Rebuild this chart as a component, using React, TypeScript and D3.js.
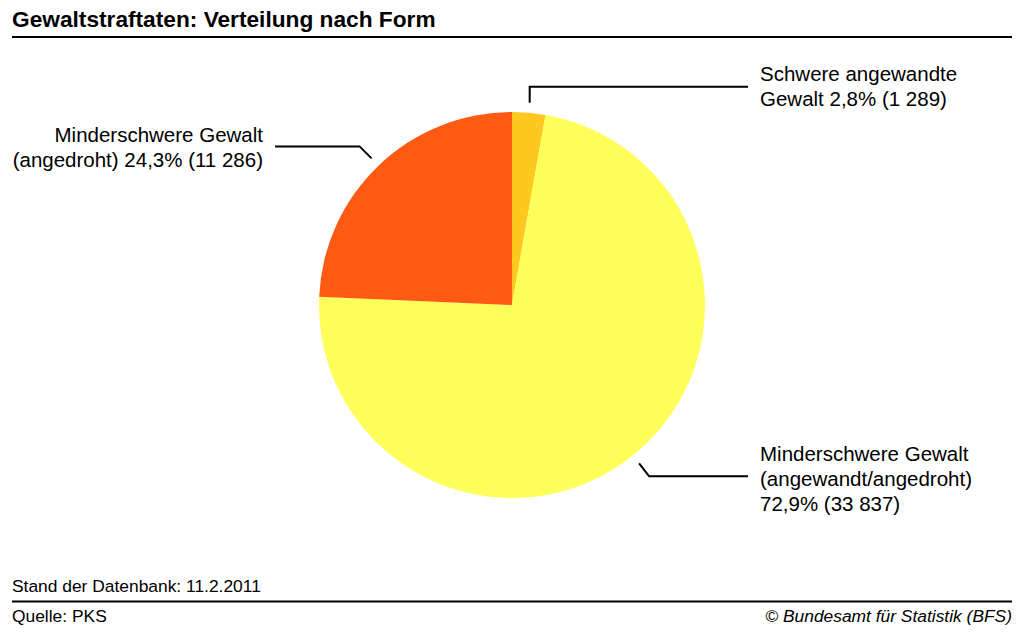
import React from "react";
import * as d3 from "d3";

const categories = [
  "Schwere angewandte Gewalt",
  "Minderschwere Gewalt (angewandt/angedroht)",
  "Minderschwere Gewalt (angedroht)",
];
const values = [1289, 33837, 11286];
const percentLabels = ["2,8%", "72,9%", "24,3%"];
const countLabels = ["1 289", "33 837", "11 286"];
const labelLines = [
  ["Schwere angewandte", "Gewalt 2,8% (1 289)"],
  ["Minderschwere Gewalt", "(angewandt/angedroht)", "72,9% (33 837)"],
  ["Minderschwere Gewalt", "(angedroht) 24,3% (11 286)"],
];
const colors = ["#FFC81E", "#FFFF5A", "#FF5A14"];

const W = 1024;
const H = 633;
const cx = 512;
const cy = 305;
const R = 193;
const font = "'Liberation Sans', Arial, sans-serif";

export default function App() {
  const pie = d3.pie<number>().sort(null).startAngle(0).endAngle(2 * Math.PI);
  const arcs = pie(values);
  const arcGen = d3.arc<d3.PieArcDefaultObject<number>>().innerRadius(0).outerRadius(R);

  const pt = (a: number, r: number) => [cx + r * Math.sin(a), cy - r * Math.cos(a)];

  const leaders = arcs.map((a, i) => {
    const mid = (a.startAngle + a.endAngle) / 2;
    const [sx, sy] = pt(mid, R + 10);
    if (i === 0) {
      return { pts: [[sx, sy], [sx, sy - 16], [748, sy - 16]], tx: 760, anchor: "start", ty: 81 };
    } else if (i === 1) {
      return { pts: [[sx, sy], [sx + 10, sy + 13], [748, sy + 13]], tx: 760, anchor: "start", ty: 461 };
    } else {
      return { pts: [[sx, sy], [sx - 12, sy - 12], [275, sy - 12]], tx: 263, anchor: "end", ty: 142 };
    }
  });

  return (
    <svg
      width={W}
      height={H}
      style={{ position: "absolute", left: 0, top: 0, background: "#fff" }}
      fontFamily={font}
    >
      <rect width={W} height={H} fill="#fff" />
      <text x={12} y={27} fontSize={22.7} fontWeight="bold" fill="#000">
        Gewaltstraftaten: Verteilung nach Form
      </text>
      <line x1={12} x2={1012} y1={37} y2={37} stroke="#000" strokeWidth={2} />

      <g transform={`translate(${cx},${cy})`}>
        {arcs.map((a, i) => (
          <path key={categories[i]} d={arcGen(a) || ""} fill={colors[i]} />
        ))}
      </g>

      {leaders.map((l, i) => (
        <g key={i}>
          <polyline
            points={l.pts.map((p) => p.join(",")).join(" ")}
            fill="none"
            stroke="#000"
            strokeWidth={2}
          />
          <text x={l.tx} y={l.ty} fontSize={20.5} textAnchor={l.anchor as any} fill="#000">
            {labelLines[i].map((t, j) => (
              <tspan key={j} x={l.tx} dy={j === 0 ? 0 : 25}>
                {t}
              </tspan>
            ))}
          </text>
        </g>
      ))}

      <text x={12} y={592} fontSize={17.4} fill="#000">
        Stand der Datenbank: 11.2.2011
      </text>
      <line x1={12} x2={1012} y1={601.5} y2={601.5} stroke="#000" strokeWidth={2} />
      <text x={12} y={622} fontSize={17.4} fill="#000">
        Quelle: PKS
      </text>
      <text x={1012} y={622} fontSize={17.4} fontStyle="italic" textAnchor="end" fill="#000">
        © Bundesamt für Statistik (BFS)
      </text>
    </svg>
  );
}
